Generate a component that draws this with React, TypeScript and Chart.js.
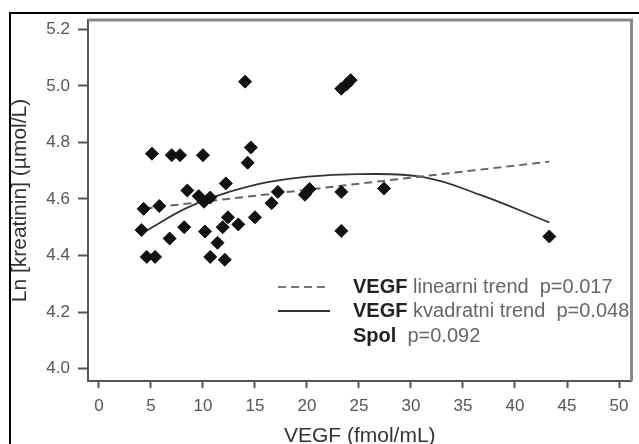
import React, { useEffect, useRef } from "react";
import { Chart, registerables } from "chart.js";

Chart.register(...registerables);

// Scatter data: VEGF (fmol/mL) vs Ln [kreatinin]
const vegf = [
  4.3, 5.8, 4.1, 4.6, 5.4, 5.1, 7.0, 7.8, 10.0, 6.8,
  8.2, 8.5, 9.6, 10.1, 10.7, 10.2, 10.7, 11.4, 11.9, 12.1,
  12.2, 12.4, 13.4, 14.05, 14.6, 14.3, 15.0, 16.6, 17.2, 19.8,
  20.25, 23.3, 23.8, 24.2, 23.3, 23.3, 27.4, 43.3,
];
const lnKreatinin = [
  4.565, 4.575, 4.49, 4.395, 4.395, 4.76, 4.755, 4.755, 4.755, 4.46,
  4.5, 4.63, 4.61, 4.59, 4.605, 4.485, 4.395, 4.445, 4.5, 4.385,
  4.655, 4.535, 4.51, 5.015, 4.782, 4.728, 4.535, 4.585, 4.625, 4.615,
  4.635, 4.99, 5.005, 5.02, 4.625, 4.487, 4.637, 4.467,
];

// Linear trend (dashed)
const linTrendX = [4.4, 43.3];
const linTrendY = [4.566, 4.732];

// Quadratic trend (solid)
const quadTrendX = [4.4, 9.1, 15.3, 20.1, 25, 31.2, 36.6, 43.3];
const quadTrendY = [4.485, 4.579, 4.652, 4.679, 4.688, 4.677, 4.615, 4.517];

const xTicksStep = 5;
const yTicksStep = 0.2;

const legendBold = ["VEGF", "VEGF", "Spol"];
const legendRest = [" linearni trend  p=0.017", " kvadratni trend  p=0.048", "  p=0.092"];

const FONT = "'Liberation Sans', Arial, sans-serif";

const framePlugin = {
  id: "frameAndLegend",
  afterDraw(chart: any) {
    const ctx = chart.ctx;
    const a = chart.chartArea;
    ctx.save();
    // outer black frame
    ctx.strokeStyle = "#000";
    ctx.lineWidth = 2;
    ctx.beginPath();
    ctx.moveTo(10, 444);
    ctx.lineTo(10, 13);
    ctx.lineTo(639, 13);
    ctx.stroke();
    // top and right plot borders
    ctx.strokeStyle = "#8a8a8a";
    ctx.lineWidth = 3;
    ctx.beginPath();
    ctx.moveTo(a.left, a.top);
    ctx.lineTo(a.right, a.top);
    ctx.lineTo(a.right, a.bottom);
    ctx.stroke();

    // legend
    const rowsY = [287, 311, 336];
    const sx0 = 278, sx1 = 330, tx = 353;
    ctx.lineWidth = 2;
    ctx.strokeStyle = "#777";
    ctx.setLineDash([8, 5]);
    ctx.beginPath();
    ctx.moveTo(sx0, rowsY[0]);
    ctx.lineTo(sx1, rowsY[0]);
    ctx.stroke();
    ctx.setLineDash([]);
    ctx.strokeStyle = "#333";
    ctx.lineWidth = 1.8;
    ctx.beginPath();
    ctx.moveTo(sx0, rowsY[1]);
    ctx.lineTo(sx1, rowsY[1]);
    ctx.stroke();
    ctx.textBaseline = "middle";
    ctx.textAlign = "left";
    for (let i = 0; i < legendBold.length; i++) {
      ctx.font = `bold 20px ${FONT}`;
      ctx.fillStyle = "#222";
      ctx.fillText(legendBold[i], tx, rowsY[i]);
      const w = ctx.measureText(legendBold[i]).width;
      ctx.font = `20px ${FONT}`;
      ctx.fillStyle = "#666";
      ctx.fillText(legendRest[i], tx + w, rowsY[i]);
    }
    ctx.restore();
  },
};

export default function App() {
  const ref = useRef<HTMLCanvasElement | null>(null);
  useEffect(() => {
    if (!ref.current) return;
    const scatter = vegf.map((x, i) => ({ x, y: lnKreatinin[i] }));
    const lin = linTrendX.map((x, i) => ({ x, y: linTrendY[i] }));
    const quad = quadTrendX.map((x, i) => ({ x, y: quadTrendY[i] }));
    const chart = new Chart(ref.current, {
      type: "scatter",
      data: {
        datasets: [
          {
            label: "points",
            data: scatter,
            pointStyle: "rectRot",
            pointRadius: 6.5,
            pointBackgroundColor: "#111",
            pointBorderColor: "#111",
            pointBorderWidth: 1,
            showLine: false,
          },
          {
            label: "VEGF linearni trend",
            data: lin,
            showLine: true,
            borderColor: "#666",
            borderWidth: 2,
            borderDash: [8, 5],
            pointRadius: 0,
          },
          {
            label: "VEGF kvadratni trend",
            data: quad,
            showLine: true,
            borderColor: "#333",
            borderWidth: 1.8,
            tension: 0.4,
            pointRadius: 0,
          },
        ],
      },
      options: {
        animation: false,
        responsive: true,
        maintainAspectRatio: false,
        layout: { padding: { left: 0, top: 20, right: 2, bottom: 0 } },
        plugins: { legend: { display: false }, tooltip: { enabled: false } },
        scales: {
          x: {
            type: "linear",
            min: -1.05,
            max: 51.2,
            afterFit: (s: any) => {
              s.height = 63;
            },
            ticks: {
              stepSize: xTicksStep,
              includeBounds: false,
              color: "#555",
              font: { size: 17, family: FONT },
              padding: 8,
              maxRotation: 0,
            },
            grid: {
              drawOnChartArea: false,
              drawTicks: true,
              tickLength: 7,
              tickColor: "#555",
              tickWidth: 2,
            },
            border: { display: true, color: "#555", width: 2 },
            title: {
              display: true,
              text: "VEGF (fmol/mL)",
              color: "#333",
              font: { size: 21, family: FONT, lineHeight: 1 },
              padding: { top: 0, bottom: -3 },
            },
          },
          y: {
            type: "linear",
            min: 3.956,
            max: 5.233,
            afterFit: (s: any) => {
              s.width = 88;
            },
            ticks: {
              stepSize: yTicksStep,
              includeBounds: false,
              color: "#555",
              font: { size: 17, family: FONT },
              padding: 8,
              callback: (v: any) => Number(v).toFixed(1),
            },
            grid: {
              drawOnChartArea: false,
              drawTicks: true,
              tickLength: 10,
              tickColor: "#555",
              tickWidth: 2,
            },
            border: { display: true, color: "#555", width: 2 },
            title: {
              display: true,
              text: "Ln [kreatinin] (µmol/L)",
              color: "#333",
              font: { size: 21, family: FONT, lineHeight: 1 },
              padding: { top: 10, bottom: 0 },
            },
          },
        },
      },
      plugins: [framePlugin],
    });
    return () => chart.destroy();
  }, []);
  return (
    <div style={{ position: "fixed", left: 0, top: 0, width: 639, height: 444, background: "#fff" }}>
      <canvas ref={ref} />
    </div>
  );
}
